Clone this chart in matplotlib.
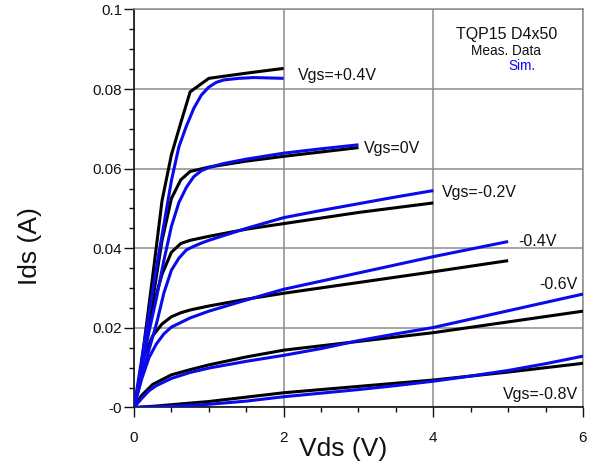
import matplotlib
matplotlib.use('Agg')
import matplotlib.pyplot as plt
from matplotlib.ticker import MultipleLocator, FixedLocator, FixedFormatter

plt.rcParams['font.family'] = ['Liberation Sans', 'DejaVu Sans']

# measured data (black), Vds in V, Ids in A
meas_vds_p04 = [0.1, 0.25, 0.375, 0.5, 0.625, 0.75, 1.0, 1.5, 2.0]
meas_ids_p04 = [0.011, 0.033, 0.052, 0.0635, 0.0715, 0.0793, 0.0827, 0.0840, 0.0852]

meas_vds_0 = [0.1, 0.25, 0.375, 0.5, 0.625, 0.75, 1.0, 1.5, 2.0, 2.5, 3.0]
meas_ids_0 = [0.011, 0.027, 0.042, 0.0525, 0.0572, 0.0593, 0.0604, 0.0619, 0.0631, 0.0642, 0.0653]

meas_vds_m02 = [0.1, 0.25, 0.375, 0.5, 0.625, 0.75, 1.0, 1.5, 2.0, 2.5, 3.0, 3.5, 4.0]
meas_ids_m02 = [0.0115, 0.025, 0.0335, 0.039, 0.0412, 0.042, 0.043, 0.0448, 0.0462, 0.0476,
                0.049, 0.0502, 0.0514]

meas_vds_m04 = [0.1, 0.25, 0.375, 0.5, 0.625, 0.75, 1.0, 1.5, 2.0, 3.0, 4.0, 5.0]
meas_ids_m04 = [0.0115, 0.018, 0.021, 0.0228, 0.0238, 0.0245, 0.0255, 0.0272, 0.0287, 0.0314,
                0.0341, 0.0369]

meas_vds_m06 = [0, 0.1, 0.25, 0.5, 0.75, 1.0, 1.5, 2.0, 3.0, 4.0, 5.0, 6.0]
meas_ids_m06 = [0, 0.003, 0.0058, 0.0082, 0.0095, 0.0107, 0.0127, 0.0144, 0.0166, 0.0188,
                0.0215, 0.0242]

meas_vds_m08 = [0, 0.25, 0.5, 1.0, 2.0, 3.0, 4.0, 5.0, 6.0]
meas_ids_m08 = [0, 0.0003, 0.0007, 0.0015, 0.0037, 0.0053, 0.0069, 0.0089, 0.0111]

# simulated data (blue)
sim_vds_p04 = [0, 0.1, 0.2, 0.3, 0.4, 0.5, 0.6, 0.7, 0.8, 0.9, 1.0, 1.1, 1.2, 1.4, 1.6, 1.8, 2.0]
sim_ids_p04 = [0, 0.0118, 0.0236, 0.0352, 0.046, 0.057, 0.0655, 0.0707, 0.0752, 0.0785,
               0.0805, 0.0817, 0.0823, 0.0827, 0.0829, 0.0828, 0.0827]

sim_vds_0 = [0, 0.1, 0.2, 0.3, 0.4, 0.5, 0.6, 0.7, 0.75, 0.8, 0.9, 1.0, 1.2, 1.5, 2.0, 2.5, 3.0]
sim_ids_0 = [0, 0.0095, 0.019, 0.0275, 0.037, 0.0455, 0.0515, 0.0553, 0.0567, 0.058, 0.0595,
             0.0603, 0.0613, 0.0624, 0.0639, 0.065, 0.066]

sim_vds_m02 = [0, 0.1, 0.2, 0.3, 0.4, 0.5, 0.6, 0.7, 0.8, 0.9, 1.0, 1.5, 2.0, 2.5, 3.0, 3.5, 4.0]
sim_ids_m02 = [0, 0.0075, 0.0145, 0.021, 0.0288, 0.0345, 0.0375, 0.0396, 0.0405, 0.0413, 0.042,
               0.045, 0.0477, 0.0495, 0.0512, 0.0529, 0.0545]

sim_vds_m04 = [0, 0.1, 0.2, 0.3, 0.4, 0.5, 0.75, 1.0, 1.5, 2.0, 3.0, 4.0, 5.0]
sim_ids_m04 = [0, 0.007, 0.0125, 0.016, 0.0185, 0.0202, 0.0225, 0.0242, 0.027, 0.0297, 0.0338,
               0.0379, 0.0417]

sim_vds_m06 = [0, 0.1, 0.2, 0.3, 0.5, 0.75, 1.0, 1.5, 2.0, 2.5, 3.0, 3.5, 4.0, 5.0, 6.0]
sim_ids_m06 = [0, 0.0022, 0.0042, 0.0055, 0.0073, 0.0088, 0.0099, 0.0116, 0.0131, 0.0148,
               0.0168, 0.0185, 0.0201, 0.0243, 0.0285]

sim_vds_m08 = [0, 0.5, 1.0, 1.5, 2.0, 2.5, 3.0, 3.5, 4.0, 4.5, 5.0, 5.5, 6.0]
sim_ids_m08 = [0, 0.0003, 0.0008, 0.0016, 0.0027, 0.0036, 0.0045, 0.0055, 0.0066, 0.0079,
               0.0093, 0.011, 0.0129]

meas = [(meas_vds_p04, meas_ids_p04), (meas_vds_0, meas_ids_0), (meas_vds_m02, meas_ids_m02),
        (meas_vds_m04, meas_ids_m04), (meas_vds_m06, meas_ids_m06), (meas_vds_m08, meas_ids_m08)]
sims = [(sim_vds_p04, sim_ids_p04), (sim_vds_0, sim_ids_0), (sim_vds_m02, sim_ids_m02),
        (sim_vds_m04, sim_ids_m04), (sim_vds_m06, sim_ids_m06), (sim_vds_m08, sim_ids_m08)]

# curve labels: text, x, y (baseline)
curve_labels = [('Vgs=+0.4V', 2.19, 0.0823), ('Vgs=0V', 3.07, 0.0639), ('Vgs=-0.2V', 4.11, 0.0530),
                ('-0.4V', 5.13, 0.0406), ('-0.6V', 5.42, 0.0297), ('Vgs=-0.8V', 4.93, 0.0021)]

ytick_vals = [0, 0.02, 0.04, 0.06, 0.08, 0.1]
ytick_labels = ['-0', '0.02', '0.04', '0.06', '0.08', '0.1']
xtick_vals = [0, 2, 4, 6]
xtick_labels = ['0', '2', '4', '6']

fig = plt.figure(figsize=(5.95, 4.63), dpi=100)
ax = fig.add_axes([0.2252, 0.1199, 0.7546, 0.8596])

for vds, ids in meas:
  ax.plot(vds, ids, color='black', lw=2.2, solid_capstyle='butt', zorder=3)
for vds, ids in sims:
  ax.plot(vds, ids, color='#0a0aeb', lw=2.2, solid_capstyle='butt', zorder=4)

for txt, x, y in curve_labels:
  ax.text(x, y, txt, fontsize=11.5, va='baseline', ha='left', color='#111111')

ax.text(4.98, 0.0925, 'TQP15 D4x50', fontsize=11.5, ha='center', va='baseline', color='#111111')
ax.text(4.97, 0.0885, 'Meas. Data', fontsize=9.8, ha='center', va='baseline', color='#111111')
ax.text(5.19, 0.0848, 'Sim.', fontsize=9.8, ha='center', va='baseline', color='#0a0aeb')

ax.set_xlim(0, 6)
ax.set_ylim(0, 0.1)
ax.xaxis.set_major_locator(FixedLocator(xtick_vals))
ax.xaxis.set_major_formatter(FixedFormatter(xtick_labels))
ax.yaxis.set_major_locator(FixedLocator(ytick_vals))
ax.yaxis.set_major_formatter(FixedFormatter(ytick_labels))
ax.xaxis.set_minor_locator(MultipleLocator(0.5))
ax.yaxis.set_minor_locator(MultipleLocator(0.005))

ax.tick_params(which='major', direction='out', length=7, width=1, labelsize=11, colors='#111111')
ax.tick_params(axis='x', which='major', pad=10)
ax.tick_params(axis='y', which='major', pad=1.5)
ax.tick_params(which='minor', direction='out', length=3.8, width=1, colors='#111111')

ax.grid(True, which='major', color='#8c8c8c', lw=1.1)
ax.set_axisbelow(True)
for side in ['top', 'right']:
  ax.spines[side].set_color('#8c8c8c')
  ax.spines[side].set_linewidth(1.1)
for side in ['left', 'bottom']:
  ax.spines[side].set_color('#111111')
  ax.spines[side].set_linewidth(1.2)

ax.text(0.4655, -0.122, 'Vds (V)', transform=ax.transAxes, fontsize=19, ha='center', va='baseline',
        color='#111111')
ax.text(-0.2316, 0.406, 'Ids (A)', transform=ax.transAxes, fontsize=19, ha='center', va='center',
        rotation=90, color='#111111')

fig.savefig('out.png', dpi=100)
